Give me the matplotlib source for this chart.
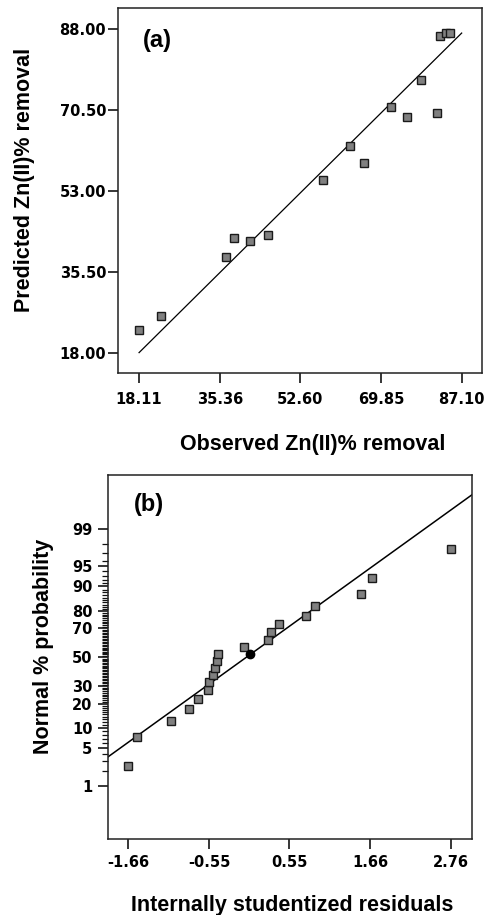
import matplotlib
matplotlib.use("Agg")
import matplotlib.pyplot as plt
from statistics import NormalDist

# ---- data ----
# (a) predicted vs observed Zn(II) % removal
observed = [18.11, 22.81, 36.64, 38.35, 41.91, 45.76, 57.45, 63.30, 66.29,
            72.06, 75.41, 78.48, 81.75, 82.54, 83.68, 84.53]
predicted = [22.9, 26.0, 38.8, 42.8, 42.2, 43.4, 55.4, 62.7, 59.1,
             71.1, 68.9, 76.9, 69.8, 86.5, 87.1, 87.2]
obs_ticks = [18.11, 35.36, 52.60, 69.85, 87.10]
pred_ticks = [18.00, 35.50, 53.00, 70.50, 88.00]
fit_range = [18.11, 87.10]

# (b) normal probability plot of residuals
residuals = [-1.66, -1.541, -1.076, -0.829, -0.701, -0.564, -0.550, -0.500,
             -0.473, -0.450, -0.432, -0.071, 0.253, 0.303, 0.404, 0.783,
             0.902, 1.536, 1.682, 2.76]
norm_prob = [2.5, 7.5, 12.5, 17.5, 22.5, 27.5, 32.5, 37.5, 42.5, 47.5,
             52.5, 57.5, 62.5, 67.5, 72.5, 77.5, 82.5, 87.5, 92.5, 97.5]
highlight_res = [0.011]
highlight_prob = [52.6]
res_ticks = [-1.66, -0.55, 0.55, 1.66, 2.76]
prob_major = [1, 5, 10, 20, 30, 50, 70, 80, 90, 95, 99]
prob_minor = [p for p in range(2, 99) if p not in prob_major]
line_slope = 0.951     # in probit units per residual
line_intercept = 0.039

nd = NormalDist()


def probit(p):
    return nd.inv_cdf(p / 100.0)


lab_font = dict(family="Liberation Sans", weight="bold", size=15.5)
tick_font = dict(family="DejaVu Sans", weight="bold", size=10.5)
mk = dict(marker="s", ms=5.5, mfc="#808080", mec="#1a1a1a", mew=1.0, ls="none")

fig = plt.figure(figsize=(4.92, 9.15), dpi=100)

# ---- (a) ----
ax1 = fig.add_axes([0.2398, 0.5923, 0.7398, 0.3989])
ax1.plot(fit_range, fit_range, color="black", lw=0.9)
ax1.plot(observed, predicted, **mk)
ax1.set_xlim(13.6, 91.44)
ax1.set_ylim(13.7, 92.5)
ax1.set_xticks(obs_ticks)
ax1.set_xticklabels([f"{v:.2f}" for v in obs_ticks], **tick_font)
ax1.set_yticks(pred_ticks)
ax1.set_yticklabels([f"{v:.2f}" for v in pred_ticks], **tick_font)
ax1.tick_params(axis="x", length=7, width=1.1, pad=6.5)
ax1.tick_params(axis="y", length=7, width=1.1, pad=1.5)
ax1.set_xlabel("Observed Zn(II)% removal", va="baseline", **lab_font)
ax1.set_ylabel("Predicted Zn(II)% removal", va="center", **lab_font)
ax1.xaxis.set_label_coords(0.534, -0.211)
ax1.yaxis.set_label_coords(-0.2555, 0.529)
ax1.text(0.068, 0.91, "(a)", transform=ax1.transAxes, va="center", ha="left",
         family="Liberation Sans", weight="bold", size=17)

# ---- (b) ----
ax2 = fig.add_axes([0.2201, 0.0831, 0.7392, 0.3978])
xlim = (-1.934, 3.052)
ax2.plot(xlim, [line_intercept + line_slope * x for x in xlim], color="black", lw=1.1)
ax2.plot(residuals, [probit(p) for p in norm_prob], **mk)
ax2.plot(highlight_res, [probit(p) for p in highlight_prob], marker="o", ms=6,
         color="black", ls="none")
ax2.set_xlim(*xlim)
ax2.set_ylim(-3.29, 3.30)
ax2.set_xticks(res_ticks)
ax2.set_xticklabels([f"{v:.2f}" for v in res_ticks], **tick_font)
ax2.set_yticks([probit(p) for p in prob_major])
ax2.set_yticklabels([str(p) for p in prob_major], **tick_font)
ax2.set_yticks([probit(p) for p in prob_minor], minor=True)
ax2.tick_params(axis="x", length=7, width=1.1, pad=4.5)
ax2.tick_params(axis="y", which="major", length=7, width=1.1, pad=4.5)
ax2.tick_params(axis="y", which="minor", length=4, width=0.9, color="#111111")
ax2.set_xlabel("Internally studentized residuals", va="baseline", **lab_font)
ax2.set_ylabel("Normal % probability", va="center", **lab_font)
ax2.xaxis.set_label_coords(0.505, -0.198)
ax2.yaxis.set_label_coords(-0.1795, 0.53)
ax2.text(0.069, 0.918, "(b)", transform=ax2.transAxes, va="center", ha="left",
         family="Liberation Sans", weight="bold", size=17)

for ax in (ax1, ax2):
    for s in ax.spines.values():
        s.set_linewidth(1.1)
        s.set_color("#222222")

fig.savefig("out.png", dpi=100)
